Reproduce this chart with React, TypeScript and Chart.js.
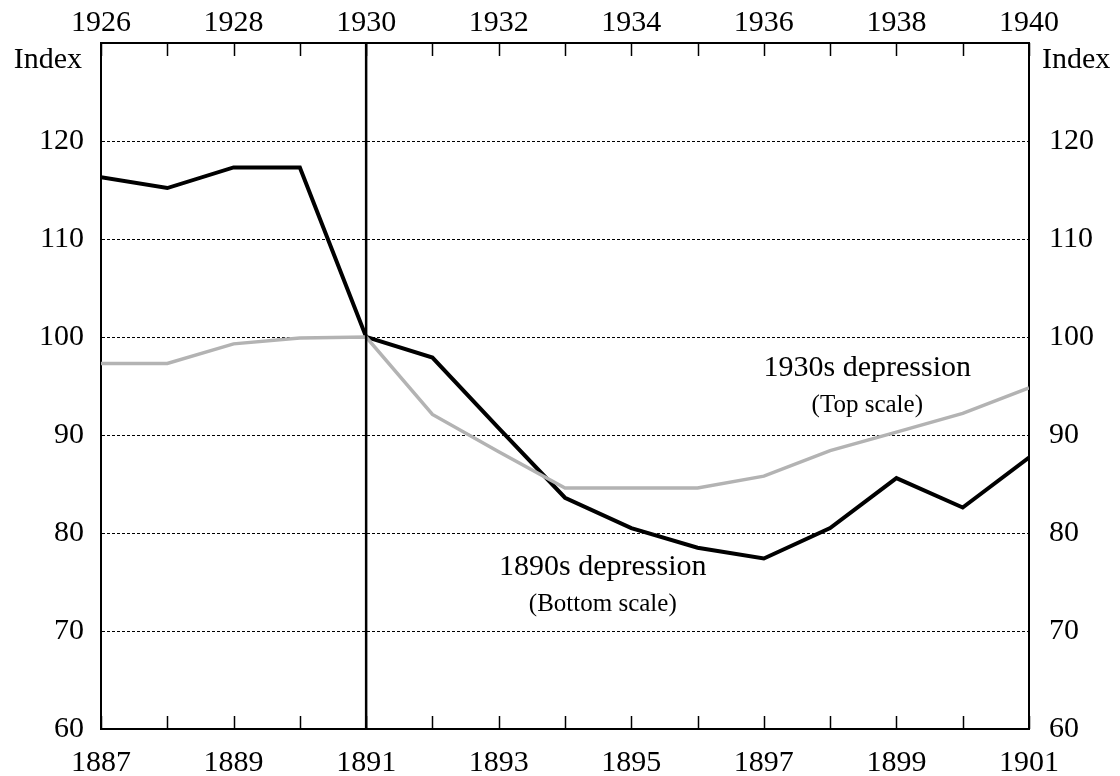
import React, { useEffect, useRef } from "react";
import { Chart, registerables } from "chart.js";

Chart.register(...registerables);

const years1890s = [1887, 1888, 1889, 1890, 1891, 1892, 1893, 1894, 1895, 1896, 1897, 1898, 1899, 1900, 1901];
const values1890s = [116.3, 115.2, 117.3, 117.3, 100, 97.9, 90.7, 83.6, 80.5, 78.5, 77.4, 80.5, 85.6, 82.6, 87.7];
const years1930s = [1926, 1927, 1928, 1929, 1930, 1931, 1932, 1933, 1934, 1935, 1936, 1937, 1938, 1939, 1940];
const values1930s = [97.3, 97.3, 99.3, 99.9, 100, 92.1, 88.3, 84.6, 84.6, 84.6, 85.8, 88.4, 90.3, 92.2, 94.8];
const yTickMax = 120;
const markerYear = 1891;
const annotations = [
  { text: "1930s depression", axis: "x2", x: 1937.56, y: 96.8, small: false },
  { text: "(Top scale)", axis: "x2", x: 1937.56, y: 93.0, small: true },
  { text: "1890s depression", axis: "x", x: 1894.57, y: 76.5, small: false },
  { text: "(Bottom scale)", axis: "x", x: 1894.57, y: 72.7, small: true },
];

const FONT = "'Liberation Serif', 'Times New Roman', serif";
const BIG = 30;
const SMALL = 25;

const overlayPlugin = {
  id: "overlay",
  afterDatasetsDraw(chart: any) {
    const { ctx, chartArea, scales } = chart;
    ctx.save();
    // inner tick marks
    ctx.strokeStyle = "#000";
    ctx.lineWidth = 1.5;
    const tl = 13;
    scales.x.ticks.forEach((t: any) => {
      const px = Math.round(scales.x.getPixelForValue(t.value)) + 0.5;
      ctx.beginPath();
      ctx.moveTo(px, chartArea.bottom);
      ctx.lineTo(px, chartArea.bottom - tl);
      ctx.stroke();
    });
    scales.x2.ticks.forEach((t: any) => {
      const px = Math.round(scales.x2.getPixelForValue(t.value)) + 0.5;
      ctx.beginPath();
      ctx.moveTo(px, chartArea.top);
      ctx.lineTo(px, chartArea.top + tl);
      ctx.stroke();
    });
    // vertical marker line
    const mx = scales.x.getPixelForValue(markerYear);
    ctx.lineWidth = 2.5;
    ctx.beginPath();
    ctx.moveTo(mx, chartArea.top);
    ctx.lineTo(mx, chartArea.bottom);
    ctx.stroke();
    // Index labels
    ctx.fillStyle = "#000";
    ctx.font = `${BIG}px ${FONT}`;
    ctx.textBaseline = "middle";
    ctx.textAlign = "right";
    ctx.fillText("Index", chartArea.left - 19, chartArea.top + 17);
    ctx.textAlign = "left";
    ctx.fillText("Index", chartArea.right + 13, chartArea.top + 17);
    // annotations
    ctx.textAlign = "center";
    annotations.forEach((a) => {
      ctx.font = a.small ? `${SMALL}px ${FONT}` : `${BIG}px ${FONT}`;
      const px = scales[a.axis].getPixelForValue(a.x);
      const py = scales.y.getPixelForValue(a.y);
      ctx.fillText(a.text, px, py);
    });
    ctx.restore();
  },
};

export default function App() {
  const ref = useRef<HTMLCanvasElement | null>(null);
  useEffect(() => {
    if (!ref.current) return;
    const tickFont = { family: FONT, size: BIG };
    const chart = new Chart(ref.current, {
      type: "line",
      data: {
        datasets: [
          {
            label: "1930s depression",
            data: years1930s.map((y, i) => ({ x: y, y: values1930s[i] })),
            xAxisID: "x2",
            yAxisID: "y",
            borderColor: "#b3b3b3",
            borderWidth: 3.5,
            pointRadius: 0,
            tension: 0,
          },
          {
            label: "1890s depression",
            data: years1890s.map((y, i) => ({ x: y, y: values1890s[i] })),
            xAxisID: "x",
            yAxisID: "y",
            borderColor: "#000",
            borderWidth: 4,
            pointRadius: 0,
            tension: 0,
          },
        ],
      },
      options: {
        animation: false,
        responsive: false,
        maintainAspectRatio: false,
        layout: { padding: 0 },
        plugins: { legend: { display: false }, tooltip: { enabled: false } },
        scales: {
          x: {
            type: "linear",
            position: "bottom",
            min: years1890s[0],
            max: years1890s[years1890s.length - 1],
            grid: { display: false, drawTicks: false },
            border: { display: true, color: "#000", width: 2 },
            ticks: {
              stepSize: 1,
              autoSkip: false,
              maxRotation: 0,
              padding: 16,
              color: "#000",
              font: tickFont,
              callback: (v: any) => ((v - years1890s[0]) % 2 === 0 ? String(v) : ""),
            },
            afterFit: (s: any) => { s.height = 47; },
          },
          x2: {
            type: "linear",
            position: "top",
            min: years1930s[0],
            max: years1930s[years1930s.length - 1],
            grid: { display: false, drawTicks: false },
            border: { display: true, color: "#000", width: 2 },
            ticks: {
              stepSize: 1,
              autoSkip: false,
              maxRotation: 0,
              padding: 2,
              color: "#000",
              font: tickFont,
              callback: (v: any) => ((v - years1930s[0]) % 2 === 0 ? String(v) : ""),
            },
            afterFit: (s: any) => { s.height = 43; },
          },
          y: {
            type: "linear",
            position: "left",
            min: 60,
            max: 130,
            grid: { display: true, drawTicks: false, color: "#000", lineWidth: 1 },
            border: { display: true, color: "#000", width: 2, dash: [3, 2] },
            ticks: { stepSize: 10, padding: 17, color: "#000", font: tickFont },
            afterBuildTicks: (s: any) => { s.ticks = s.ticks.filter((t: any) => t.value <= yTickMax); },
            afterFit: (s: any) => { s.width = 101; },
          },
          y2: {
            type: "linear",
            position: "right",
            min: 60,
            max: 130,
            grid: { display: false, drawTicks: false },
            border: { display: true, color: "#000", width: 2 },
            ticks: { stepSize: 10, padding: 20, color: "#000", font: tickFont },
            afterBuildTicks: (s: any) => { s.ticks = s.ticks.filter((t: any) => t.value <= yTickMax); },
            afterFit: (s: any) => { s.width = 91; },
          },
        },
      },
      plugins: [overlayPlugin],
    } as any);
    return () => chart.destroy();
  }, []);
  return (
    <div style={{ position: "fixed", left: 0, top: 0, width: 1120, height: 776, background: "#fff" }}>
      <canvas ref={ref} width={1120} height={776} style={{ display: "block", width: 1120, height: 776 }} />
    </div>
  );
}
